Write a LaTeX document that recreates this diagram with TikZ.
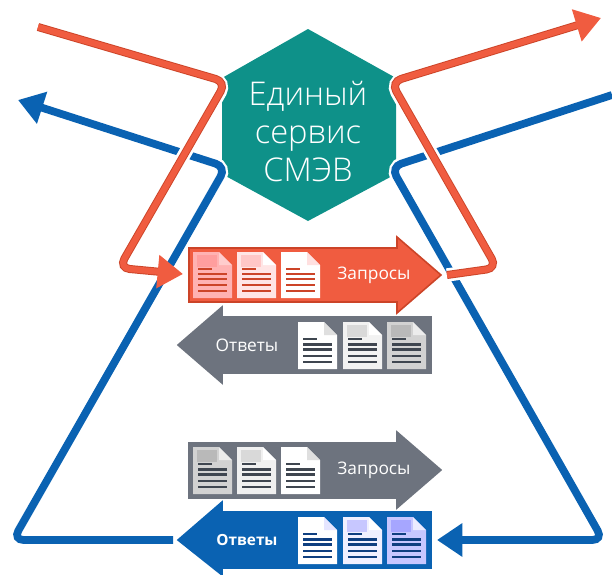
\documentclass[tikz,border=0pt]{standalone}
\usepackage{fontspec}
\setmainfont{Open Sans}
\newfontfamily\lightfont{Open Sans Light}
\usetikzlibrary{arrows.meta}
\definecolor{redA}{HTML}{F05C40}
\definecolor{redD}{HTML}{CC4428}
\definecolor{blueA}{HTML}{0A62B2}
\definecolor{blueD}{HTML}{0F3F80}
\definecolor{greyA}{HTML}{6D737E}
\definecolor{greyD}{HTML}{3F4650}
\definecolor{tealA}{HTML}{0E9189}
\tikzset{
  x=0.75pt,y=-0.75pt,
  halo/.style={draw=white,line width=10pt,rounded corners=9pt},
  edgered/.style={draw=redD,line width=6pt,rounded corners=8pt,shorten >=14pt},
  flowred/.style={draw=redA,line width=4.6pt,rounded corners=8pt,-{Triangle[length=19pt,width=24pt,fill=redA]}},
  flowblue/.style={draw=blueA,line width=5.8pt,rounded corners=8pt,-{Triangle[length=19pt,width=24pt,fill=blueA]}},
  bigarrow/.style={line width=1.2pt,line join=miter},
  bigtext/.style={text=white,inner sep=0pt,font=\fontsize{13pt}{15pt}\selectfont},
  boldtext/.style={text=white,inner sep=0pt,font=\bfseries\fontsize{11.5pt}{15pt}\selectfont},
  hextext/.style={text=white,align=center,inner sep=0pt,font=\lightfont\fontsize{24.5pt}{28.5pt}\selectfont},
}
% #1 x, #2 y, #3 height, #4 page, #5 block, #6 fold, #7 rule colour
\newcommand{\docfig}[7]{%
  \begin{scope}[shift={(#1,#2)}]
    \fill[#4] (0,0) -- (26,0) -- (39,13) -- (39,#3) -- (0,#3) -- cycle;
    \fill[#5] (4,3) rectangle (24,15);
    \fill[#6] (26,0) -- (39,13) -- (26,13) -- cycle;
    \draw[#7,line width=1.7pt] (5,17) -- (19,17);
    \foreach \r in {22,27,33,39} {\draw[#7,line width=1.7pt] (5,\r*#3/46) -- (34,\r*#3/46);}
  \end{scope}}
\begin{document}
\begin{tikzpicture}
\useasboundingbox (0,0) rectangle (612,575);
% route points
\coordinate (rs) at (38,27);
\coordinate (rc1) at (226,82);
\coordinate (rc2) at (119,268);
\coordinate (rt) at (183,274);
\coordinate (qs) at (447,275);
\coordinate (qc1) at (497,268);
\coordinate (qc2) at (391,82);
\coordinate (qt) at (601,18);
\coordinate (bs) at (612,95);
\coordinate (bc1) at (391,167);
\coordinate (bc2) at (603,540);
\coordinate (bt) at (437,540);
\coordinate (as) at (173,540);
\coordinate (ac1) at (13,540);
\coordinate (ac2) at (226,167);
\coordinate (at) at (18,100);
% hexagon
\fill[tealA] (308,29) -- (396,78) -- (396,174) -- (308,221) -- (222,174) -- (222,78) -- cycle;
\node[hextext] (hex) at (308,132) {Единый\\сервис\\СМЭВ};
% blue routes
\draw[halo] (bs) -- (bc1) -- (bc2) -- (bt);
\draw[halo] (as) -- (ac1) -- (ac2) -- (at);
\draw[flowblue] (bs) -- (bc1) -- (bc2) -- (bt);
\draw[flowblue] (as) -- (ac1) -- (ac2) -- (at);
% red routes
\draw[halo] (rs) -- (rc1) -- (rc2) -- (rt);
\draw[halo] (qs) -- (qc1) -- (qc2) -- (qt);
\draw[edgered] (rs) -- (rc1) -- (rc2) -- (rt);
\draw[edgered] (qs) -- (qc1) -- (qc2) -- (qt);
\draw[flowred] (rs) -- (rc1) -- (rc2) -- (rt);
\draw[flowred] (qs) -- (qc1) -- (qc2) -- (qt);
% wide arrows
\draw[bigarrow,fill=redA,draw=redD] (189,248) -- (397,248) -- (397,237) -- (441,275) -- (397,313) -- (397,302) -- (189,302) -- cycle;
\draw[bigarrow,fill=greyA,draw=greyA] (431,317) -- (222,317) -- (222,307) -- (178,345) -- (222,383) -- (222,373) -- (431,373) -- cycle;
\draw[bigarrow,fill=greyA,draw=greyA] (189,443) -- (397,443) -- (397,432) -- (441,470) -- (397,508) -- (397,498) -- (189,498) -- cycle;
\draw[bigarrow,fill=blueA,draw=blueA] (431,512) -- (222,512) -- (222,502) -- (178,540) -- (222,575) -- (222,568) -- (431,568) -- cycle;
% documents
\docfig{193}{252}{46}{red!30!white}{red!38!white}{white!80!red}{redD}
\docfig{237}{252}{46}{red!10!white}{red!22!white}{white}{redD}
\docfig{281}{252}{46}{white}{white}{red!12!white}{redD}
\docfig{298}{322}{47}{white}{white}{gray!25}{greyD}
\docfig{343}{322}{47}{gray!10}{gray!30}{white}{greyD}
\docfig{387}{322}{47}{gray!35}{gray!55}{gray!15}{greyD}
\docfig{193}{447}{47}{gray!35}{gray!55}{gray!15}{greyD}
\docfig{237}{447}{47}{gray!12}{gray!30}{white}{greyD}
\docfig{281}{447}{47}{white}{white}{gray!25}{greyD}
\docfig{298}{517}{47}{white}{white}{blue!10!white}{blueD}
\docfig{343}{517}{47}{blue!6!white}{blue!22!white}{white}{blueD}
\docfig{387}{517}{47}{blue!22!white}{blue!35!white}{blue!8!white}{blueD}
% labels
\node[bigtext] (q1) at (374,275) {Запросы};
\node[bigtext] (a1) at (247,345) {Ответы};
\node[bigtext] (q2) at (374,470) {Запросы};
\node[boldtext] (a2) at (247,540) {Ответы};
\end{tikzpicture}
\end{document}
